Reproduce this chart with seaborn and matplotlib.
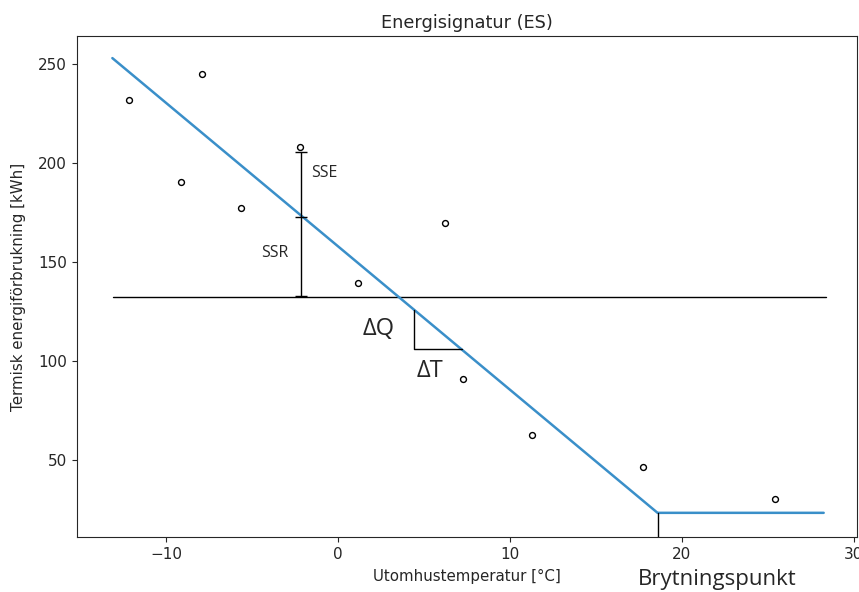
import matplotlib
matplotlib.use("Agg")
import matplotlib.pyplot as plt
import seaborn as sns
import pandas as pd

# Data
temperature = [-12.15, -7.9, -9.15, -5.66, -2.2, 1.15, 6.2, 7.27, 11.28, 17.74, 25.41]
energy = [232.0, 245.1, 190.4, 177.1, 208.1, 139.5, 169.7, 91.1, 62.6, 46.5, 30.3]

model_x = [-13.14, 18.59, 28.26]
model_y = [253.0, 23.5, 23.5]

mean_x = [-13.1, 28.4]
mean_y = [132.3, 132.3]

err_x = [-2.15, -2.15, -2.15]
err_y = [132.8, 172.9, 205.4]

tri_x = [4.42, 4.42, 7.19]
tri_y = [126.0, 106.1, 106.1]

break_x = [18.59, 18.59]
break_y = [23.5, 11.3]

sns.set_style("ticks")
plt.rcParams['font.family'] = ['DejaVu Sans']

fig = plt.figure(figsize=(8.59, 5.92), dpi=100)
ax = fig.add_axes([0.0896, 0.0929, 0.9081, 0.8461])

df_pts = pd.DataFrame({"t": temperature, "e": energy})
df_model = pd.DataFrame({"t": model_x, "e": model_y})
df_mean = pd.DataFrame({"t": mean_x, "e": mean_y})

sns.lineplot(data=df_mean, x="t", y="e", ax=ax, color="black", linewidth=1.0, sort=False)
sns.lineplot(data=df_model, x="t", y="e", ax=ax, color="#3a8fc9", linewidth=1.8, sort=False)
sns.scatterplot(data=df_pts, x="t", y="e", ax=ax, s=18, facecolor="white",
                edgecolor="black", linewidth=1.0, zorder=5)

# SSE / SSR bar
ax.plot([err_x[0], err_x[-1]], [err_y[0], err_y[-1]], color="black", linewidth=1.0)
ax.plot(err_x, err_y, linestyle="none", marker="_", markersize=9, color="black",
        markeredgewidth=1.0)

# slope triangle
ax.plot(tri_x, tri_y, color="black", linewidth=1.0)
# break point marker
ax.plot(break_x, break_y, color="black", linewidth=1.0)

ax.text(-1.6, 195, "SSE", fontsize=11.5, family="Open Sans", va="center", ha="left")
ax.text(-2.9, 154.5, "SSR", fontsize=11.5, family="Open Sans", va="center", ha="right")
ax.text(1.4, 116.3, "ΔQ", fontsize=17, family="Open Sans", va="center", ha="left")
ax.text(4.55, 95.0, "ΔT", fontsize=17, family="Open Sans", va="center", ha="left")

ax.set_xlim(-15.2, 30.2)
ax.set_ylim(11.3, 264.1)
ax.set_xticks([-10, 0, 10, 20, 30])
ax.set_yticks([50, 100, 150, 200, 250])
ax.tick_params(labelsize=11)
ax.set_xlabel("Utomhustemperatur [°C]", fontsize=10.8, labelpad=5)
ax.set_ylabel("Termisk energiförbrukning [kWh]", fontsize=10.8, labelpad=9)
ax.set_title("Energisignatur (ES)", fontsize=12.8)

fig.text(717 / 859, 1 - 580 / 592, "Brytningspunkt", fontsize=16, family="Open Sans",
         ha="center", va="center")

fig.savefig("out.png", dpi=100)
